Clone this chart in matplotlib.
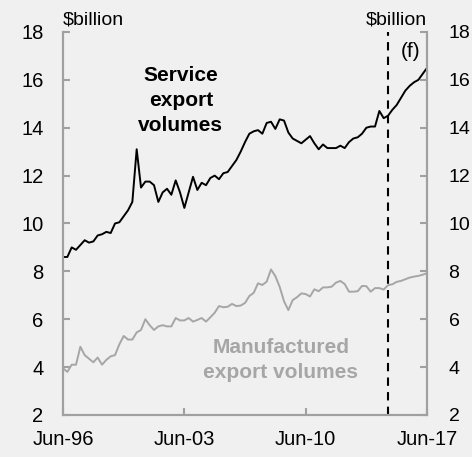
import numpy as np
import matplotlib
matplotlib.use("Agg")
import matplotlib.pyplot as plt

plt.rcParams['font.family'] = ['Liberation Sans', 'DejaVu Sans']

# quarterly, Jun-96 to Jun-17 ($billion)
service = [8.6, 8.6, 9.0, 8.9, 9.1, 9.3, 9.2, 9.25, 9.5, 9.55,
           9.65, 9.6, 10.0, 10.05, 10.3, 10.55, 10.9, 13.1, 11.5, 11.75,
           11.75, 11.6, 10.9, 11.3, 11.45, 11.2, 11.8, 11.3, 10.65, 11.3,
           11.95, 11.4, 11.7, 11.6, 11.9, 12.0, 11.85, 12.1, 12.15, 12.4,
           12.65, 13.0, 13.4, 13.75, 13.85, 13.9, 13.75, 14.2, 14.25, 13.95,
           14.35, 14.3, 13.8, 13.55, 13.45, 13.35, 13.5, 13.65, 13.35, 13.1,
           13.3, 13.15, 13.15, 13.15, 13.25, 13.15, 13.4, 13.55, 13.6, 13.75,
           14.0, 14.05, 14.05, 14.7, 14.4, 14.5, 14.75, 14.95, 15.25, 15.55,
           15.75, 15.9, 16.0, 16.25, 16.5]
manufactured = [3.95, 3.8, 4.1, 4.1, 4.85, 4.5, 4.35, 4.2, 4.4, 4.1,
                4.3, 4.45, 4.5, 4.95, 5.3, 5.15, 5.15, 5.45, 5.55, 6.0,
                5.75, 5.55, 5.7, 5.75, 5.7, 5.7, 6.05, 5.95, 5.95, 6.05,
                5.9, 5.97, 6.05, 5.9, 6.08, 6.27, 6.55, 6.5, 6.52, 6.64,
                6.55, 6.57, 6.68, 6.97, 7.1, 7.5, 7.43, 7.57, 8.08, 7.8,
                7.35, 6.75, 6.38, 6.8, 6.92, 7.08, 7.05, 6.95, 7.25, 7.17,
                7.33, 7.33, 7.36, 7.53, 7.6, 7.47, 7.15, 7.15, 7.17, 7.39,
                7.38, 7.15, 7.3, 7.3, 7.24, 7.42, 7.46, 7.56, 7.6, 7.67,
                7.74, 7.78, 7.81, 7.86, 7.92]
tick_pos = [0, 28, 56, 84]
tick_labels = ['Jun-96', 'Jun-03', 'Jun-10', 'Jun-17']
forecast_start = 75

bg = '#f0f0f0'
axis_grey = '#a0a0a0'
line_grey = '#a6a6a6'

fig = plt.figure(figsize=(4.72, 4.57), dpi=100, facecolor=bg)
ax = fig.add_axes([0.1335, 0.092, 0.7712, 0.838], facecolor=bg)

q = np.arange(len(service))
ax.plot(q, service, color='black', lw=1.4)
ax.plot(q, manufactured, color=line_grey, lw=1.4)
ax.axvline(forecast_start, color='black', lw=1.5, ls=(0, (4, 3)))

ax.set_xlim(0, 84)
ax.set_ylim(2, 18)
ax.set_yticks(np.arange(2, 19, 2))
ax.set_xticks(tick_pos)
ax.set_xticklabels(tick_labels)

# right-hand scale, same as left
ax2 = ax.twinx()
ax2.set_ylim(2, 18)
ax2.set_yticks(np.arange(2, 19, 2))

for a in (ax, ax2):
    for s in ['left', 'right', 'bottom']:
        a.spines[s].set_color(axis_grey)
        a.spines[s].set_linewidth(1.5)
    a.spines['top'].set_visible(False)
ax.tick_params(axis='y', direction='in', length=5, width=1.5, color=axis_grey,
               labelsize=14.5, pad=14)
ax2.tick_params(axis='y', direction='in', length=5, width=1.5, color=axis_grey,
                labelsize=14, pad=15.5)
ax.tick_params(axis='x', direction='in', length=5, width=1.5, color=axis_grey,
               labelsize=14.5, pad=11)

ax.text(0, 1.01, '$billion', transform=ax.transAxes, ha='left', va='bottom',
        fontsize=14)
ax.text(1, 1.01, '$billion', transform=ax.transAxes, ha='right', va='bottom',
        fontsize=14)
ax.text(0.956, 0.975, '(f)', transform=ax.transAxes, ha='center', va='top',
        fontsize=15)

ax.text(27.2, 15.15, 'Service\nexport\nvolumes', ha='center', va='center',
        fontsize=15, fontweight='bold', linespacing=1.4)
ax.text(50.3, 4.3, 'Manufactured\nexport volumes', ha='center', va='center',
        fontsize=15, fontweight='bold', color=line_grey, linespacing=1.4)

fig.savefig('out.png', dpi=100, facecolor=bg)
